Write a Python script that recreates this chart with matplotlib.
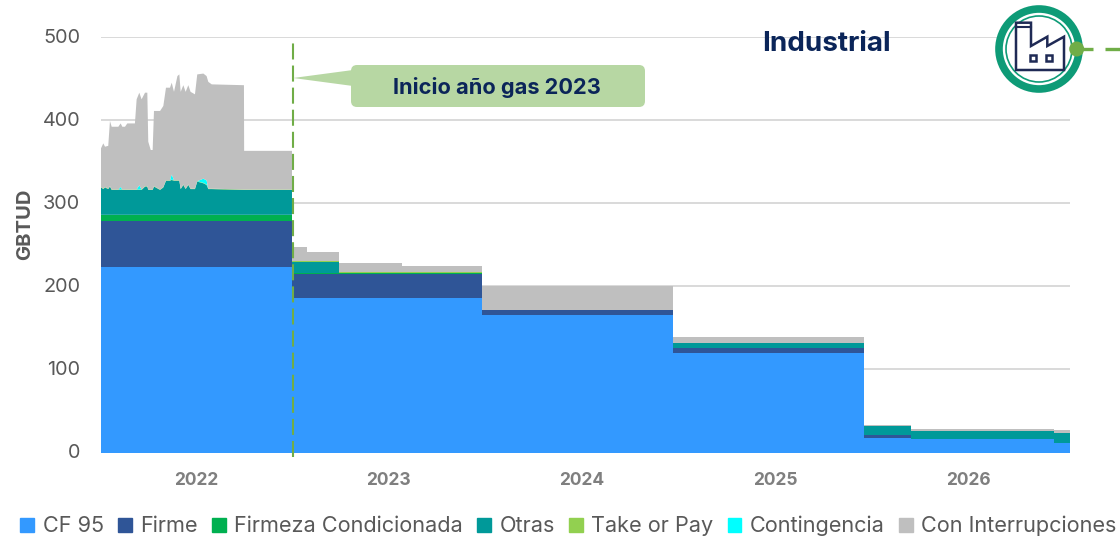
import matplotlib
matplotlib.use("Agg")
import matplotlib.pyplot as plt
from matplotlib.patches import Circle, FancyBboxPatch, Patch, Polygon, Rectangle
from matplotlib.transforms import ScaledTranslation

plt.rcParams['font.family'] = ['Inter', 'DejaVu Sans']

# anos desde enero 2022, tramo diario de 2022
x_2022 = [0.000, 0.012, 0.021, 0.038, 0.047, 0.056, 0.091, 0.103, 0.112, 0.126, 0.138,
          0.178, 0.187, 0.201, 0.213, 0.231, 0.243, 0.248, 0.261, 0.271, 0.278, 0.310,
          0.327, 0.341, 0.362, 0.371, 0.383, 0.401, 0.411, 0.418, 0.432, 0.444, 0.458,
          0.470, 0.493, 0.505, 0.537, 0.554, 0.563, 0.581, 0.750, 0.751, 1.002]
cf95_2022 = [223] * 43
firme_2022 = [55] * 43
firmeza_2022 = [8] * 43
otras_2022 = [33, 31, 33, 31, 34, 30, 30, 30, 30, 30, 30,
              30, 30, 30, 30, 34, 34, 30, 30, 30, 34, 30,
              33, 41, 41, 42, 41, 41, 41, 31, 36, 31, 36,
              31, 31, 40, 38, 36, 31, 31, 30, 30, 30]
top_2022 = [0.5] * 43
cont_2022 = [0, 0, 0, 0, 0, 0, 0, 3, 0, 0, 0,
             0, 0, 5, 0, 0, 0, 0, 0, 0, 0, 0,
             0, 0, 0, 6, 0, 0, 0, 0, 0, 0, 0,
             0, 0, 0, 5, 5, 0, 0, 0, 0, 0]
inter_2022 = [46.5, 54.5, 48.5, 51.5, 78.5, 75.5, 75.5, 76.5, 75.5, 75.5, 79.5,
              79.5, 108.5, 111.5, 108.5, 112.5, 112.5, 57.5, 47.5, 47.5, 90.5, 94.5,
              97.5, 111.5, 111.5, 110.5, 106.5, 125.5, 127.5, 116.5, 119.5, 116.5, 119.5,
              116.5, 113.5, 128.5, 126.5, 125.5, 128.5, 125.5, 125.5, 46.5, 46.5]

# tramos escalonados 2023-2026
x_steps = [1.002, 1.081, 1.249, 1.579, 1.999, 3.001, 4.003, 4.250, 5.000, 5.084]
cf95 = [186, 186, 186, 186, 166, 120, 17.5, 16, 11.5, 11.5]
firme = [29, 29, 29, 29, 6, 6, 3, 0, 0, 0]
firmeza = [1.5, 1.5, 1.5, 1.5, 0, 0, 0, 0, 0, 0]
otras = [13, 13, 0, 0, 0, 6, 11, 10, 12.5, 12.5]
top = [0.5, 0.5, 0.5, 0.5, 0, 0, 0, 0, 0, 0]
cont = [0, 0, 0, 0, 0, 0, 0, 0, 0, 0]
inter = [17.5, 11.5, 11, 8, 28, 7, 2, 2, 3, 3]

names = ["CF 95", "Firme", "Firmeza Condicionada", "Otras", "Take or Pay", "Contingencia", "Con Interrupciones"]
colors = ["#3399FF", "#2F5597", "#00B050", "#009999", "#92D050", "#00FFFF", "#BFBFBF"]
years = ["2022", "2023", "2024", "2025", "2026"]
year_pos = [0.498, 1.510, 2.523, 3.536, 4.549]
y_ticks = [0, 100, 200, 300, 400, 500]

NAVY = "#0B2559"

fig = plt.figure(figsize=(11.2, 5.38), dpi=100)
ax = fig.add_axes([101 / 1120, (538 - 452.5) / 538, 969 / 1120, 415.5 / 538])

ax.stackplot(x_2022, cf95_2022, firme_2022, firmeza_2022, otras_2022, top_2022, cont_2022, inter_2022,
             colors=colors, linewidth=0, zorder=2)
ax.stackplot(x_steps, cf95, firme, firmeza, otras, top, cont, inter,
             colors=colors, linewidth=0, step='post', zorder=2)

ax.set_xlim(0, 5.084)
ax.set_ylim(0, 500)
ax.set_yticks(y_ticks)
ax.set_xticks(year_pos)
ax.set_xticklabels(years, fontsize=12.5, fontweight='bold', color="#7F7F7F")
ax.tick_params(axis='y', length=0, pad=15, labelsize=14.3, labelcolor="#595959")
ax.tick_params(axis='x', length=0, pad=14)
for lab in ax.get_yticklabels():
    lab.set_transform(lab.get_transform() + ScaledTranslation(0, 1.5 / 100, fig.dpi_scale_trans))
ax.grid(axis='y', color="#D9D9D9", lw=1.4, zorder=0)
ax.set_axisbelow(True)
for s in ax.spines.values():
    s.set_visible(False)
ax.set_ylabel("GBTUD", fontsize=14.5, fontweight='bold', color="#595959")
ax.yaxis.set_label_coords(-0.069, 0.55)

ax.plot([1.005, 1.005], [-5, 493], color="#70AD47", lw=1.5, ls=(0, (7.7, 2.9)), clip_on=False, zorder=3)

# decoracion en pixeles
ov = fig.add_axes([0, 0, 1, 1], facecolor='none')
ov.set_xlim(0, 1120)
ov.set_ylim(538, 0)
ov.axis('off')

ov.add_patch(Polygon([(293, 78), (353, 70), (353, 86)], color="#B7D7A3", lw=0))
ov.add_patch(FancyBboxPatch((351, 65), 294, 42, boxstyle="round,pad=0,rounding_size=6", fc="#B7D7A3", ec='none'))
ov.text(497, 87, "Inicio año gas 2023", ha='center', va='center', fontsize=15.7, fontweight='bold', color=NAVY)
ov.text(826, 44, "Industrial", ha='center', va='center', fontsize=20, fontweight='bold', color=NAVY)

ov.add_patch(Circle((1039, 49), 40, fc='white', ec="#0E9B77", lw=5.5))
ov.add_patch(Circle((1039, 49), 33, fc='white', ec="#0E9B77", lw=1.2))
fx = [1016, 1031, 1031, 1047.3, 1047.3, 1064, 1064, 1016]
fy = [22.7, 22.7, 46, 36.7, 46, 36.7, 70, 70]
ov.add_patch(Polygon(list(zip(fx, fy)), closed=True, fc='white', ec="#1F2A55", lw=1.8))
ov.plot([1016, 1031], [26.7, 26.7], color="#1F2A55", lw=1.5)
ov.add_patch(Rectangle((1030, 55), 6, 6, fc='white', ec="#1F2A55", lw=1.8))
ov.add_patch(Rectangle((1046, 55), 6, 6, fc='white', ec="#1F2A55", lw=1.8))
ov.add_patch(Circle((1076.7, 49), 7.5, fc="#70AD47", ec='none'))
ov.plot([1082, 1093], [49, 49], color="#70AD47", lw=2.4, solid_capstyle='butt')
ov.plot([1105, 1120], [49, 49], color="#70AD47", lw=2.4, solid_capstyle='butt')

handles = [Patch(color=c, label=n) for c, n in zip(colors, names)]
fig.legend(handles=handles, loc='center', bbox_to_anchor=(568.5 / 1120, (538 - 526) / 538), ncol=7, frameon=False,
           fontsize=15.6, labelcolor="#595959", handlelength=0.63, handleheight=0.63, handletextpad=0.4,
           columnspacing=0.655, borderpad=0, borderaxespad=0)

fig.savefig("out.png", dpi=100)
